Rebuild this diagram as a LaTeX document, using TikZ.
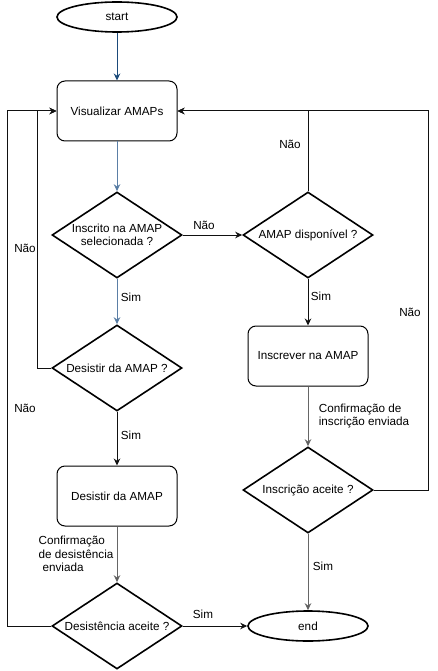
\documentclass[tikz,border=0pt]{standalone}
\usepackage{fontspec}
\setmainfont{Liberation Sans}
\usetikzlibrary{shapes.geometric,arrows.meta}
\definecolor{dkblue}{HTML}{1B4A7A}
\definecolor{stblue}{HTML}{5B7FA6}
\definecolor{ln}{HTML}{111111}
\definecolor{gr}{HTML}{666666}
\tikzset{
  every node/.style={font=\fontsize{11.7}{13.5}\selectfont},
  term/.style={ellipse,draw,line width=1.6pt,minimum width=120pt,minimum height=30pt,inner sep=0pt},
  proc/.style={rectangle,draw,line width=1pt,rounded corners=8pt,minimum width=120pt,minimum height=60pt,inner sep=0pt},
  dia/.style={diamond,draw,line width=1.6pt,minimum width=130pt,minimum height=86pt,inner sep=0pt},
  conn/.style={line width=1pt,draw=ln,-{Stealth[length=7pt,width=6.5pt]}},
  lbl/.style={inner sep=0pt,align=center},
}
\begin{document}
\begin{tikzpicture}[x=1pt,y=-1pt]
\useasboundingbox (0,0) rectangle (438,671);
\node[term] (start) at (117,17) {start};
\node[proc] (vis) at (117,111) {Visualizar AMAPs};
\node[dia,label={[lbl]center:Inscrito na AMAP\\selecionada ?}] (d1) at (117,235) {};
\node[dia,label={[lbl]center:AMAP disponível ?}] (d2) at (308,235) {};
\node[dia,label={[lbl]center:Desistir da AMAP ?}] (d3) at (117,368) {};
\node[proc] (r2) at (117,496) {Desistir da AMAP};
\node[dia,label={[lbl]center:Desistência aceite ?}] (d4) at (117,626) {};
\node[proc] (r1) at (308,356) {Inscrever na AMAP};
\node[dia,label={[lbl]center:Inscrição aceite ?}] (d5) at (308,490) {};
\node[term] (end) at (308,626) {end};

\coordinate (cL1) at (37,368);
\coordinate (cL1t) at (37,111);
\coordinate (cL2) at (7,626);
\coordinate (cL2t) at (7,111);
\coordinate (cR) at (428,490);
\coordinate (cRt) at (428,111);

\draw[conn,draw=dkblue,-{Stealth[length=7pt,width=6.5pt,fill=dkblue]}] (start) -- (vis);
\draw[conn,draw=stblue,-{Stealth[length=7pt,width=6.5pt,fill=dkblue]}] (vis) -- (d1);
\draw[conn] (d1.east) -- (d2.west);
\draw[conn,draw=stblue,-{Stealth[length=7pt,width=6.5pt,fill=dkblue]}] (d1.south) -- (d3.north);
\draw[conn] (d3.west) -- (cL1) -- (cL1t) -- (vis.west);
\draw[conn,draw=ln] (d3.south) -- (r2.north);
\draw[conn,draw=gr,-{Stealth[length=7pt,width=6.5pt,fill=ln]}] (r2.south) -- (d4.north);
\draw[conn] (d4.west) -- (cL2) -- (cL2t) -- (vis.west);
\draw[conn] (d4.east) -- (end.west);
\draw[conn,draw=ln] (d2.south) -- (r1.north);
\draw[conn,draw=gr,-{Stealth[length=7pt,width=6.5pt,fill=ln]}] (r1.south) -- (d5.north);
\draw[conn,draw=gr,-{Stealth[length=7pt,width=6.5pt,fill=ln]}] (d5.south) -- (end.north);
\draw[conn] (d5.east) -- (cR) -- (cRt) -- (vis.east);
\draw[conn] (d2.north) |- (vis.east);

\node[lbl] (l1) at (204,225) {Não};
\node[lbl] (l2) at (131,297) {Sim};
\node[lbl] (l3) at (25,248) {Não};
\node[lbl] (l4) at (131,435) {Sim};
\node[lbl,align=left] (l5) at (76,554) {Confirmação\\de desistência\\\hspace{4pt}enviada};
\node[lbl] (l6) at (25,408) {Não};
\node[lbl] (l7) at (203,614) {Sim};
\node[lbl] (l8) at (321,296) {Sim};
\node[lbl,align=left] (l9) at (364,416) {Confirmação de\\inscrição enviada};
\node[lbl] (l10) at (410,312) {Não};
\node[lbl] (l11) at (290,144) {Não};
\node[lbl] (l12) at (323,566) {Sim};
\end{tikzpicture}
\end{document}
